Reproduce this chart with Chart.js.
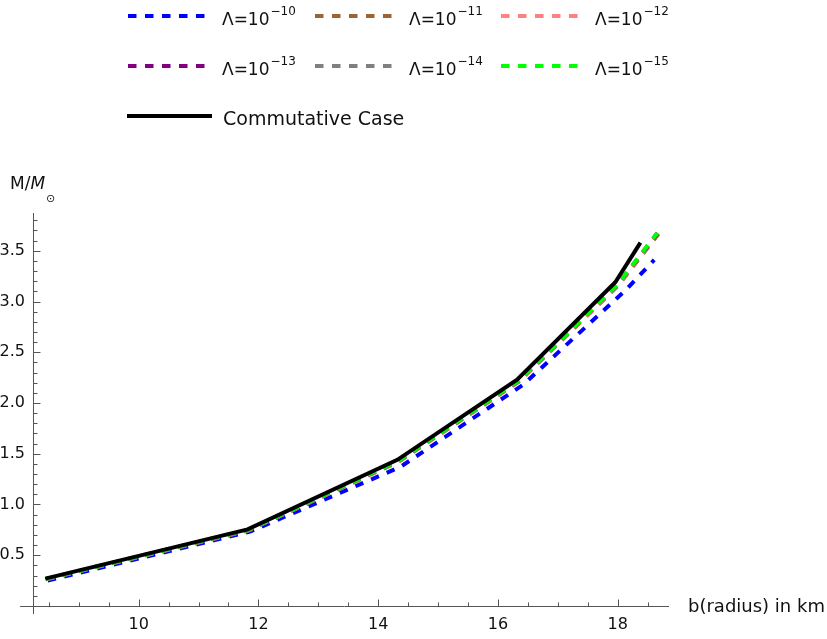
<!DOCTYPE html>
<html>
<head>
<meta charset="utf-8">
<script src="https://cdn.jsdelivr.net/npm/chart.js@4.4.1/dist/chart.umd.min.js"></script>
<style>
  html, body { margin: 0; padding: 0; background: #fff; }
  #wrap { width: 827px; height: 639px; }
</style>
</head>
<body>
<div id="wrap"><canvas id="massChart" width="827" height="639"></canvas></div>
<script>
// ====== Data ======
const radiusL10 = [8.48, 11.86, 14.37, 16.42, 18.13, 18.61];
const massL10   = [0.25, 0.732, 1.37, 2.18, 3.11, 3.41];

const radiusL11 = [8.45, 11.84, 14.34, 16.35, 18.00, 18.68];
const massL11   = [0.262, 0.745, 1.42, 2.21, 3.15, 3.665];

const radiusL12 = [8.45, 11.84, 14.34, 16.35, 18.00, 18.67];
const massL12   = [0.264, 0.748, 1.425, 2.215, 3.155, 3.67];

const radiusL13 = [8.45, 11.84, 14.34, 16.35, 17.99, 18.67];
const massL13   = [0.265, 0.75, 1.43, 2.22, 3.16, 3.672];

const radiusL14 = [8.45, 11.84, 14.34, 16.35, 17.99, 18.66];
const massL14   = [0.265, 0.75, 1.43, 2.22, 3.16, 3.675];

const radiusL15 = [8.45, 11.84, 14.34, 16.35, 17.99, 18.66];
const massL15   = [0.266, 0.751, 1.432, 2.222, 3.162, 3.675];

const radiusComm = [8.44, 11.82, 14.32, 16.32, 17.96, 18.38];
const massComm   = [0.27, 0.755, 1.44, 2.23, 3.19, 3.58];

const xTicks = [10, 12, 14, 16, 18];
const yTicks = [0.5, 1.0, 1.5, 2.0, 2.5, 3.0, 3.5];
// =======================================

const FONT = "'DejaVu Sans', sans-serif";
const AXIS_COLOR = "#555";
const Y_AXIS_AT = 8.235;

function toPoints(xs, ys) {
  return xs.map((v, i) => ({ x: v, y: ys[i] }));
}

function series(base, sup, xs, ys, color, dashed, order) {
  return {
    label: base + sup,
    legendBase: base,
    legendSup: sup,
    data: toPoints(xs, ys),
    borderColor: color,
    borderWidth: 4,
    borderDash: dashed ? [8.5, 8.5] : [],
    borderCapStyle: "butt",
    pointRadius: 0,
    tension: 0,
    fill: false,
    order: order
  };
}

// Axes drawn Mathematica style: crossing lines with major + minor ticks
const axesPlugin = {
  id: "mathAxes",
  beforeDatasetsDraw(chart) {
    const { ctx, chartArea, scales: { x, y } } = chart;
    const ax = Math.round(x.getPixelForValue(Y_AXIS_AT)) + 0.5;
    const ay = Math.round(y.getPixelForValue(0)) + 0.5;
    ctx.save();
    ctx.strokeStyle = AXIS_COLOR;
    ctx.lineWidth = 1;
    ctx.beginPath();
    // x axis
    ctx.moveTo(x.getPixelForValue(8.02), ay);
    ctx.lineTo(chartArea.right, ay);
    // y axis
    ctx.moveTo(ax, chartArea.top);
    ctx.lineTo(ax, chartArea.bottom);
    // x ticks
    for (let v = 8.5; v <= 18.51; v += 0.5) {
      const px = Math.round(x.getPixelForValue(v)) + 0.5;
      const len = Math.abs(v % 2) < 0.01 ? 7 : 4;
      ctx.moveTo(px, ay);
      ctx.lineTo(px, ay - len);
    }
    // y ticks
    for (let i = 1; i <= 38; i++) {
      const v = i / 10;
      const py = Math.round(y.getPixelForValue(v)) + 0.5;
      const len = i % 5 === 0 ? 7 : 4;
      ctx.moveTo(ax, py);
      ctx.lineTo(ax + len, py);
    }
    ctx.stroke();

    // axis titles
    ctx.fillStyle = "#111";
    ctx.textBaseline = "alphabetic";
    ctx.textAlign = "left";
    ctx.font = "18px " + FONT;
    ctx.fillText("b(radius) in km", 688, 612);
    ctx.font = "17px " + FONT;
    ctx.fillText("M/", 10, 189);
    const w = ctx.measureText("M/").width;
    ctx.font = "italic 17px " + FONT;
    ctx.fillText("M", 10 + w, 189);
    ctx.font = "11px " + FONT;
    ctx.fillText("\u2299", 46, 202);
    ctx.restore();
  }
};

// Legend: three columns of dashed samples, then the solid commutative line
const legendPlugin = {
  id: "gridLegend",
  afterDraw(chart) {
    const { ctx } = chart;
    const colX = [128, 315, 501];
    const rowY = [16, 66];
    ctx.save();
    chart.data.datasets.forEach((ds, i) => {
      let sx, sy, len, tx, fontSize;
      if (i < 6) {
        sx = colX[i % 3];
        sy = rowY[Math.floor(i / 3)];
        len = 78;
        tx = sx + 94;
        fontSize = 17;
      } else {
        sx = 127;
        sy = 116;
        len = 85;
        tx = 223;
        fontSize = 19;
      }
      ctx.strokeStyle = ds.borderColor;
      ctx.lineWidth = 4;
      ctx.lineCap = "butt";
      ctx.setLineDash(ds.borderDash);
      ctx.beginPath();
      ctx.moveTo(sx, sy);
      ctx.lineTo(sx + len, sy);
      ctx.stroke();
      ctx.setLineDash([]);

      ctx.fillStyle = "#111";
      ctx.textAlign = "left";
      ctx.textBaseline = "alphabetic";
      ctx.font = fontSize + "px " + FONT;
      const base = sy + 9;
      ctx.fillText(ds.legendBase, tx, base);
      if (ds.legendSup) {
        const w = ctx.measureText(ds.legendBase).width;
        ctx.font = "12px " + FONT;
        ctx.fillText(ds.legendSup, tx + w + 1, base - 10);
      }
    });
    ctx.restore();
  }
};

const chart = new Chart(document.getElementById("massChart"), {
  type: "line",
  data: {
    datasets: [
      series("\u039B=10", "\u221210", radiusL10, massL10, "#0000ff", true, 6),
      series("\u039B=10", "\u221211", radiusL11, massL11, "#996633", true, 5),
      series("\u039B=10", "\u221212", radiusL12, massL12, "#ff8080", true, 4),
      series("\u039B=10", "\u221213", radiusL13, massL13, "#800080", true, 3),
      series("\u039B=10", "\u221214", radiusL14, massL14, "#808080", true, 2),
      series("\u039B=10", "\u221215", radiusL15, massL15, "#00ff00", true, 1),
      series("Commutative Case", "", radiusComm, massComm, "#000000", false, 0)
    ]
  },
  options: {
    responsive: false,
    animation: false,
    devicePixelRatio: 1,
    layout: { padding: { left: 0, right: 158, top: 213, bottom: 0 } },
    plugins: {
      legend: { display: false },
      tooltip: { enabled: false }
    },
    scales: {
      x: {
        type: "linear",
        min: Y_AXIS_AT,
        max: 18.857,
        grid: { display: false, drawTicks: false },
        border: { display: false },
        afterBuildTicks: s => { s.ticks = xTicks.map(v => ({ value: v })); },
        afterFit: s => { s.height = 25; },
        ticks: {
          padding: 1,
          color: "#111",
          font: { family: FONT, size: 16 },
          callback: v => String(v)
        }
      },
      y: {
        type: "linear",
        min: -0.079,
        max: 3.872,
        grid: { display: false, drawTicks: false },
        border: { display: false },
        afterBuildTicks: s => { s.ticks = yTicks.map(v => ({ value: v })); },
        afterFit: s => { s.width = 33; },
        ticks: {
          padding: 8,
          color: "#111",
          font: { family: FONT, size: 16 },
          callback: v => v.toFixed(1)
        }
      }
    }
  },
  plugins: [axesPlugin, legendPlugin]
});
</script>
</body>
</html>
